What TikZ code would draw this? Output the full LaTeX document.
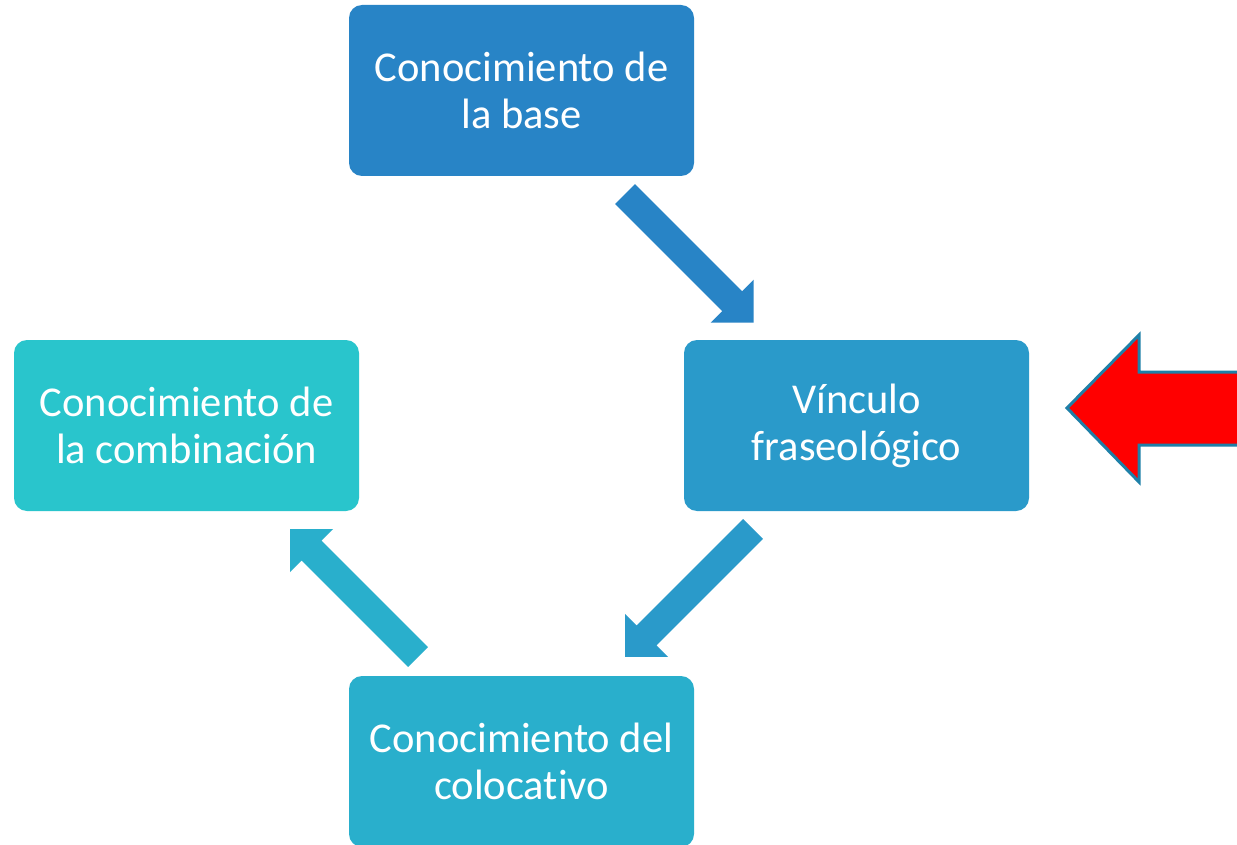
\documentclass[tikz,border=0pt]{standalone}
\usepackage{fontspec}
\setmainfont[Ligatures=NoCommon]{Carlito}
\definecolor{cTop}{RGB}{40,132,198}
\definecolor{cRight}{RGB}{42,154,202}
\definecolor{cBottom}{RGB}{41,175,204}
\definecolor{cLeft}{RGB}{41,197,204}
\definecolor{cOutline}{RGB}{30,128,168}
\tikzset{
  box/.style={rectangle, rounded corners=13pt, minimum width=345pt, minimum height=171pt,
    inner sep=0pt, align=center, text=white,
    font=\fontsize{42.5}{47}\selectfont},
  blockarrow/.pic={
    \fill[pic actions] (0,-14) -- (#1-30.5,-14) -- (#1-30.5,-30.5) -- (#1,0)
      -- (#1-30.5,30.5) -- (#1-30.5,14) -- (0,14) -- cycle;
  }
}
\begin{document}
\begin{tikzpicture}[x=1pt,y=1pt]
\useasboundingbox (0,0) rectangle (1237,-845);
\clip (0,0) rectangle (1237,-845);
\fill[white] (0,0) rectangle (1237,-845);
% boxes
\node[box, fill=cTop]    (base) at (521.5,-90.5) {Conocimiento de\\la base};
\node[box, fill=cRight]  (vinc) at (856.5,-425.5) {Vínculo\\fraseológico};
\node[box, fill=cBottom] (colo) at (521.5,-761.5) {Conocimiento del\\colocativo};
\node[box, fill=cLeft]   (comb) at (186.5,-425.5) {Conocimiento de\\la combinación};
% block arrows
\pic[fill=cTop, shift={(625,-194)}, rotate=-45] {blockarrow=182};
\pic[fill=cRight, shift={(753,-529)}, rotate=-135] {blockarrow=181};
\pic[fill=cBottom, shift={(418,-657)}, rotate=135] {blockarrow=181};
% red pointer arrow
\draw[fill=red, draw=cOutline, line width=3pt, line join=miter]
  (1067,-408) -- (1139,-335) -- (1139,-372) -- (1250,-372) -- (1250,-445)
  -- (1139,-445) -- (1139,-482) -- cycle;
\end{tikzpicture}
\end{document}
